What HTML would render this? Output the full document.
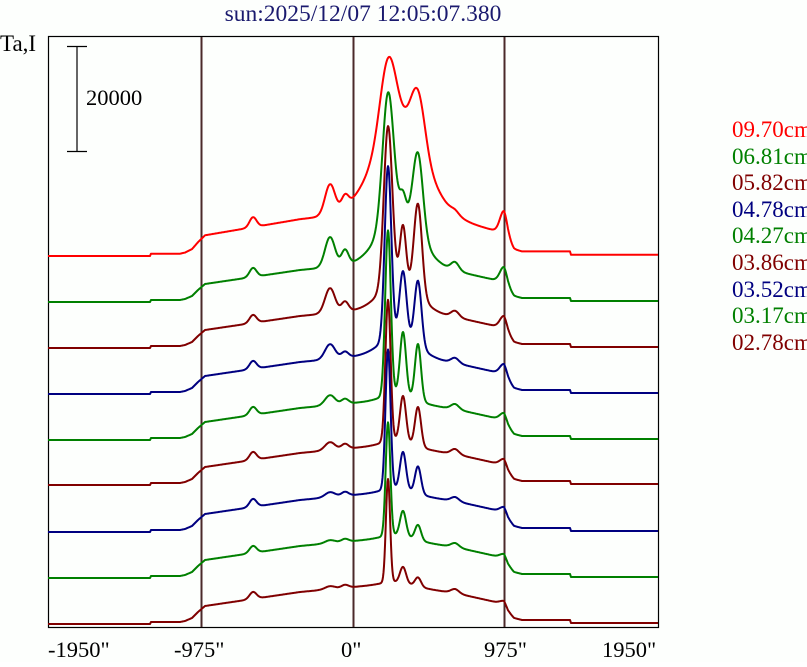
<!DOCTYPE html>
<html><head><meta charset="utf-8">
<style>
html,body{margin:0;padding:0;background:#fff;}
body{width:807px;height:662px;overflow:hidden;}
svg text{font-family:"Liberation Serif",serif;}
</style></head>
<body>
<svg id="s" width="807" height="662" xmlns="http://www.w3.org/2000/svg">
<rect x="0" y="0" width="807" height="662" fill="#fdfffd"/>
<text x="363" y="21" font-size="23.5" fill="#1a1a6e" text-anchor="middle">sun:2025/12/07 12:05:07.380</text>
<text x="0" y="51" font-size="23" fill="#000">Ta,I</text>
<line x1="77" y1="46" x2="77" y2="151" stroke="#000" stroke-width="1.2"/>
<line x1="67" y1="46.5" x2="87" y2="46.5" stroke="#000" stroke-width="1.2"/>
<line x1="67" y1="151.5" x2="87" y2="151.5" stroke="#000" stroke-width="1.2"/>
<text x="86" y="105" font-size="22.5" fill="#000">20000</text>
<rect x="48.5" y="36.5" width="610" height="591" fill="none" stroke="#000" stroke-width="1.2"/>
<line x1="201.5" y1="37" x2="201.5" y2="627" stroke="#4a2a2a" stroke-width="2"/>
<line x1="353.5" y1="37" x2="353.5" y2="627" stroke="#4a2a2a" stroke-width="2"/>
<line x1="504.5" y1="37" x2="504.5" y2="627" stroke="#4a2a2a" stroke-width="2"/>
<g id="tr"></g>
<g font-size="22.5">
<text x="48" y="657">-1950"</text>
<text x="174" y="657">-975"</text>
<text x="341" y="657">0"</text>
<text x="484" y="657">975"</text>
<text x="602" y="657">1950"</text>
</g>
<g font-size="23">
<text x="732" y="137" fill="#ff0000">09.70cm</text>
<text x="732" y="164" fill="#008000">06.81cm</text>
<text x="732" y="190" fill="#800000">05.82cm</text>
<text x="732" y="217" fill="#000080">04.78cm</text>
<text x="732" y="243" fill="#008000">04.27cm</text>
<text x="732" y="270" fill="#800000">03.86cm</text>
<text x="732" y="297" fill="#000080">03.52cm</text>
<text x="732" y="323" fill="#008000">03.17cm</text>
<text x="732" y="350" fill="#800000">02.78cm</text>
</g>
</svg>
<script>
function lerp(pts,x){for(var i=0;i<pts.length-1;i++){var a=pts[i],b=pts[i+1];if(x>=a[0]&&x<=b[0]){var t=(x-a[0])/(b[0]-a[0]);return a[1]+(b[1]-a[1])*t;}}return x<pts[0][0]?pts[0][1]:pts[pts.length-1][1];}
var disk=[[48,0],[150,0],[151,2],[180,2],[185,3],[192,6],[198,12],[205,18],[300,32],[353,37],[390,40],[455,31],[500,21],[504,20],[508,12],[514,6],[522,4],[570,4],[571,1],[658,1]];
function g(x,c,s,h){return h*Math.exp(-(x-c)*(x-c)/(2*s*s));}
// base,color,ds,B,Bs,mainH,mainS,h403,s403,h418,s418,h330,h345,hLimb,h455,h253
var T=[
[256,"#ff0000",1.15,90,25,72,8,0,3,55,7,30,12,22,3,10],
[302,"#008000",1.0,50,20,128,5.5,20,3,80,5,30,15,15,8,9],
[348,"#800000",1.0,30,18,158,4.2,55,3,90,4,25,10,12,6,8],
[394,"#000080",1.0,20,18,172,3.3,65,3.5,65,3.5,15,6,10,5,8],
[440,"#008000",1.0,8,15,164,2.8,62,3,56,3,10,5,7,5,8],
[485,"#800000",1.0,6,15,141,2.6,45,3,39,3,8,5,6,5,8],
[532,"#000080",1.0,5,15,139,2.5,37,3,27,3,5,4,5,4,8],
[578,"#008000",1.0,4,15,113,2.3,25,3,15,3,3,3,4,4,7],
[624,"#800000",1.0,3,15,103,2.1,16,3,9,3,3,3,3,4,7]];
var out="";
T.forEach(function(p){
 var d="";
 for(var x=48;x<=658;x+=0.5){
  var v=lerp(disk,x)*p[2];
  var ind=(x>195&&x<512)?1:0;
  v+=ind*(g(x,400,p[4],p[3])+g(x,388,p[6],p[5])+g(x,403,p[8],p[7])+g(x,418,p[10],p[9])+g(x,330,5,p[11])+g(x,345,3.5,p[12])+g(x,455,4,p[14])+g(x,253,3.5,p[15]));
  v+=g(x,504,4,p[13]);
  var y=p[0]-v;
  d+=(x==48?"M":"L")+x+" "+y.toFixed(1);
 }
 out+='<path d="'+d+'" fill="none" stroke="'+p[1]+'" stroke-width="2" stroke-linejoin="round"/>';
});
document.getElementById("tr").innerHTML=out;
</script>
</body></html>
